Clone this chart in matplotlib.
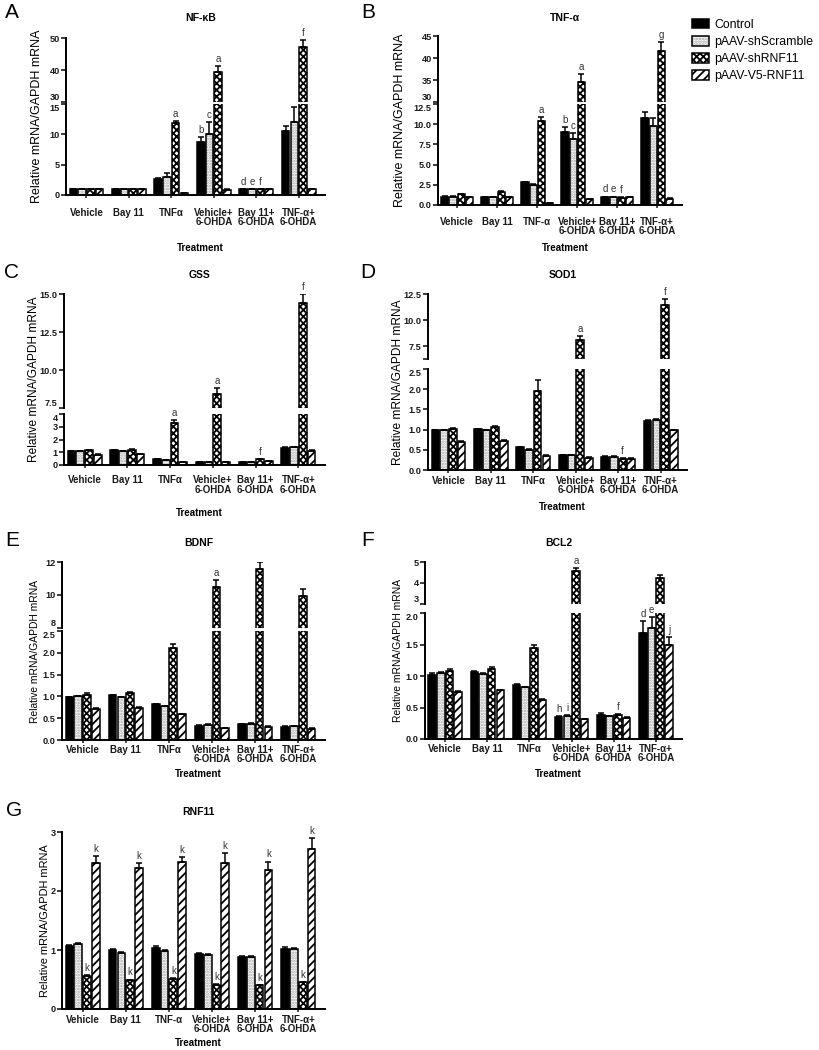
import numpy as np
import matplotlib
matplotlib.use("Agg")
import matplotlib.pyplot as plt
from matplotlib.patches import Patch

plt.rcParams['font.family'] = ['Liberation Sans', 'DejaVu Sans']
plt.rcParams['hatch.linewidth'] = 1.3

W, H = 820, 1050

series = ["Control", "pAAV-shScramble", "pAAV-shRNF11", "pAAV-V5-RNF11"]
groups_alpha = ["Vehicle", "Bay 11", "TNFα", "Vehicle+\n6-OHDA", "Bay 11+\n6-OHDA", "TNF-α+\n6-OHDA"]
groups_dash = ["Vehicle", "Bay 11", "TNF-α", "Vehicle+\n6-OHDA", "Bay 11+\n6-OHDA", "TNF-α+\n6-OHDA"]

# rows: Control, shScramble, shRNF11, V5-RNF11 ; cols: treatment groups
nfkb_mean = [[1.0, 1.0, 2.7, 8.7, 1.0, 10.5],
             [1.0, 1.0, 3.0, 10.1, 1.0, 12.1],
             [1.0, 1.0, 11.8, 39.3, 1.0, 47.2],
             [1.0, 1.0, 0.3, 0.9, 1.0, 1.0]]
nfkb_err = [[0.05, 0.05, 0.15, 0.9, 0.05, 0.9],
            [0.05, 0.05, 0.6, 2.0, 0.05, 2.4],
            [0.05, 0.05, 0.45, 1.8, 0.05, 2.2],
            [0.05, 0.05, 0.05, 0.05, 0.05, 0.05]]
nfkb_letters = [(2, 2, 'a'), (3, 0, 'b'), (3, 1, 'c'), (3, 2, 'a'),
                (4, 0, 'd'), (4, 1, 'e'), (4, 2, 'f'), (5, 2, 'f')]

tnf_mean = [[1.05, 1.0, 2.8, 9.0, 1.0, 10.8],
            [1.05, 0.95, 2.5, 8.2, 1.0, 9.8],
            [1.3, 1.6, 10.4, 34.6, 0.9, 41.5],
            [1.0, 1.0, 0.2, 0.7, 1.0, 0.8]]
tnf_err = [[0.05, 0.05, 0.1, 0.6, 0.05, 0.7],
           [0.05, 0.05, 0.1, 0.7, 0.05, 1.0],
           [0.1, 0.15, 0.5, 1.8, 0.05, 2.2],
           [0.05, 0.05, 0.03, 0.05, 0.05, 0.05]]
tnf_letters = [(2, 2, 'a'), (3, 0, 'b'), (3, 1, 'c'), (3, 2, 'a'),
               (4, 0, 'd'), (4, 1, 'e'), (4, 2, 'f'), (5, 2, 'g')]

gss_mean = [[1.1, 1.15, 0.45, 0.25, 0.25, 1.35],
            [1.1, 1.1, 0.4, 0.25, 0.25, 1.4],
            [1.15, 1.2, 3.3, 8.4, 0.45, 14.4],
            [0.8, 0.85, 0.25, 0.2, 0.3, 1.1]]
gss_err = [[0.03, 0.03, 0.03, 0.02, 0.02, 0.04],
           [0.03, 0.03, 0.03, 0.02, 0.02, 0.04],
           [0.05, 0.05, 0.2, 0.4, 0.05, 0.6],
           [0.03, 0.03, 0.02, 0.02, 0.02, 0.05]]
gss_letters = [(2, 2, 'a'), (3, 2, 'a'), (4, 2, 'f'), (5, 2, 'f')]

sod1_mean = [[0.98, 1.01, 0.56, 0.36, 0.32, 1.21],
             [0.99, 0.98, 0.50, 0.36, 0.32, 1.24],
             [1.02, 1.06, 1.95, 8.1, 0.27, 11.4],
             [0.70, 0.73, 0.35, 0.30, 0.28, 0.99]]
sod1_err = [[0.01, 0.01, 0.02, 0.02, 0.02, 0.02],
            [0.01, 0.01, 0.02, 0.02, 0.02, 0.02],
            [0.03, 0.03, 0.27, 0.4, 0.03, 0.6],
            [0.01, 0.01, 0.02, 0.01, 0.01, 0.01]]
sod1_letters = [(3, 2, 'a'), (4, 2, 'f'), (5, 2, 'f')]

bdnf_mean = [[0.98, 1.03, 0.82, 0.33, 0.36, 0.30],
             [1.00, 0.98, 0.78, 0.34, 0.37, 0.32],
             [1.04, 1.07, 2.12, 10.5, 11.55, 9.95],
             [0.72, 0.74, 0.59, 0.27, 0.30, 0.26]]
bdnf_err = [[0.01, 0.01, 0.01, 0.02, 0.01, 0.01],
            [0.01, 0.01, 0.01, 0.02, 0.01, 0.01],
            [0.03, 0.03, 0.08, 0.4, 0.45, 0.4],
            [0.01, 0.01, 0.01, 0.01, 0.01, 0.01]]
bdnf_letters = [(3, 2, 'a')]

bcl2_mean = [[1.02, 1.07, 0.86, 0.35, 0.38, 1.69],
             [1.04, 1.03, 0.82, 0.36, 0.36, 1.76],
             [1.08, 1.11, 1.45, 4.55, 0.38, 4.25],
             [0.75, 0.77, 0.62, 0.31, 0.34, 1.49]]
bcl2_err = [[0.02, 0.01, 0.01, 0.02, 0.04, 0.18],
            [0.02, 0.01, 0.01, 0.02, 0.01, 0.18],
            [0.03, 0.04, 0.04, 0.15, 0.02, 0.12],
            [0.01, 0.01, 0.01, 0.01, 0.01, 0.13]]
bcl2_letters = [(3, 0, 'h'), (3, 1, 'i'), (3, 2, 'a'), (4, 2, 'f'),
                (5, 0, 'd'), (5, 1, 'e'), (5, 3, 'j')]

rnf11_mean = [[1.07, 1.00, 1.04, 0.93, 0.88, 1.02],
              [1.10, 0.95, 0.99, 0.92, 0.88, 1.01],
              [0.56, 0.49, 0.51, 0.41, 0.40, 0.45],
              [2.48, 2.39, 2.49, 2.47, 2.35, 2.72]]
rnf11_err = [[0.02, 0.02, 0.03, 0.02, 0.02, 0.03],
             [0.02, 0.01, 0.01, 0.02, 0.01, 0.02],
             [0.02, 0.01, 0.01, 0.01, 0.01, 0.01],
             [0.12, 0.08, 0.08, 0.17, 0.15, 0.18]]
rnf11_letters = [(0, 2, 'k'), (1, 2, 'k'), (2, 2, 'k'), (3, 2, 'k'), (4, 2, 'k'), (5, 2, 'k'),
                 (0, 3, 'k'), (1, 3, 'k'), (2, 3, 'k'), (3, 3, 'k'), (4, 3, 'k'), (5, 3, 'k')]

BW = 0.18
STEP = 0.205
LW = 1.1

fig = plt.figure(figsize=(W / 100, H / 100), dpi=100)


def draw_bars(ax, means, errs):
    x = np.arange(len(means[0]))
    for i in range(4):
        xi = x + (i - 1.5) * STEP
        m = np.array(means[i])
        e = np.array(errs[i])
        if i == 0:
            ax.bar(xi, m, BW, color='black', edgecolor='black', linewidth=LW, zorder=2)
        elif i == 1:
            ax.bar(xi, m, BW, color='white', edgecolor='#a8a8a8', hatch='......', linewidth=0, zorder=2)
            ax.bar(xi, m, BW, fill=False, edgecolor='black', linewidth=LW, zorder=2)
        elif i == 2:
            ax.bar(xi, m, BW, color='white', edgecolor='black', hatch='xxxxx', linewidth=LW, zorder=2)
        else:
            ax.bar(xi, m, BW, color='white', edgecolor='black', hatch='////', linewidth=LW, zorder=2)
        ax.errorbar(xi, m, yerr=[np.zeros_like(e), e], fmt='none', ecolor='black',
                    elinewidth=1.1, capsize=2.2, capthick=1.1, zorder=3)


def panel(letter, title, groups, means, errs, letters, x0, x1, segs,
          letter_xy, title_y, treat_y, ylabel_x, ylabel_fs, xpad):
    axes = []
    n = len(segs)
    for k, (ytop, ybot, lo, hi, ticks, fmt) in enumerate(segs):
        ax = fig.add_axes([x0 / W, 1 - ybot / H, (x1 - x0) / W, (ybot - ytop) / H])
        draw_bars(ax, means, errs)
        ax.set_xlim(-0.48, 5.62)
        ax.set_ylim(lo, hi)
        ax.set_yticks(ticks)
        labs = ax.set_yticklabels([fmt.format(t) for t in ticks], fontweight='bold')
        if n > 1:
            if k < n - 1 and abs(ticks[0] - lo) < 1e-9:
                labs[0].set_verticalalignment('bottom')
            if k > 0 and abs(ticks[-1] - hi) < 1e-9:
                labs[-1].set_verticalalignment('top')
        ax.set_yticks([lo, hi], minor=True)
        for s in ['top', 'right']:
            ax.spines[s].set_visible(False)
        ax.spines['left'].set_linewidth(1.4)
        ax.spines['bottom'].set_linewidth(1.4)
        ax.tick_params(axis='y', which='both', length=3.5, width=1.2, labelsize=6.6, pad=1, colors='#1a1a1a')
        if k < n - 1:
            ax.spines['bottom'].set_visible(False)
            ax.set_xticks([])
        else:
            ax.set_xticks(np.arange(len(groups)))
            ax.set_xticklabels(groups, fontweight='bold', linespacing=0.9)
            ax.tick_params(axis='x', length=2.5, width=1.1, labelsize=7, pad=xpad, colors='#1a1a1a')
        axes.append(ax)
    # significance letters
    for (g, s, l) in letters:
        y = means[s][g] + errs[s][g]
        target = axes[-1]
        for k, seg in enumerate(segs):
            if seg[2] <= y <= seg[3] + 1e-9:
                target = axes[k]
        target.annotate(l, (g + (s - 1.5) * STEP, y), xytext=(0, 1.5), textcoords='offset points',
                        ha='center', va='bottom', fontsize=7, color='#333333')
    cx = (x0 + x1) / 2
    fig.text(letter_xy[0] / W, 1 - letter_xy[1] / H, letter, fontsize=15, ha='center', va='center')
    fig.text((cx + 5) / W, 1 - title_y / H, title, fontsize=7.5, fontweight='bold', ha='center', va='center')
    fig.text((cx + 5) / W, 1 - treat_y / H, "Treatment", fontsize=7, fontweight='bold', ha='center', va='center')
    ymid = (segs[0][0] + segs[-1][1]) / 2
    fig.text(ylabel_x / W, 1 - ymid / H, "Relative mRNA/GAPDH mRNA", rotation=90,
             fontsize=ylabel_fs, ha='center', va='center')


panel("A", "NF-κB", groups_alpha, nfkb_mean, nfkb_err, nfkb_letters, 66, 325,
      [(38, 102, 30, 50, [30, 40, 50], "{:.0f}"),
       (104, 195, 0, 15, [0, 5, 10, 15], "{:.0f}")],
      (12, 13), 18, 248, 37, 9.0, 7.0)

panel("B", "TNF-α", groups_dash, tnf_mean, tnf_err, tnf_letters, 438, 682,
      [(36, 102, 30, 45, [30, 35, 40, 45], "{:.0f}"),
       (104, 205, 0, 12.5, [0, 2.5, 5, 7.5, 10, 12.5], "{:.1f}")],
      (368, 13), 18, 248, 400, 9.0, 6.0)

panel("C", "GSS", groups_alpha, gss_mean, gss_err, gss_letters, 64, 325,
      [(294, 408, 7.5, 15, [7.5, 10, 12.5, 15], "{:.1f}"),
       (414, 465, 0, 4, [0, 1, 2, 3, 4], "{:.0f}")],
      (12, 273), 275, 513, 34, 8.6, 5.0)

panel("D", "SOD1", groups_alpha, sod1_mean, sod1_err, sod1_letters, 428, 687,
      [(294, 359, 6.25, 12.5, [7.5, 10, 12.5], "{:.1f}"),
       (369, 470, 0, 2.5, [0, 0.5, 1.0, 1.5, 2.0, 2.5], "{:.1f}")],
      (368, 273), 275, 507, 398, 8.6, 2.0)

panel("E", "BDNF", groups_alpha, bdnf_mean, bdnf_err, bdnf_letters, 62, 325,
      [(562, 628, 8, 12, [8, 10, 12], "{:.0f}"),
       (631, 740, 0, 2.5, [0, 0.5, 1.0, 1.5, 2.0, 2.5], "{:.1f}")],
      (12, 540), 543, 774, 35, 7.4, 1.0)

panel("F", "BCL2", groups_alpha, bcl2_mean, bcl2_err, bcl2_letters, 425, 682,
      [(562, 604, 3, 5, [3, 4, 5], "{:.0f}"),
       (613, 739, 0, 2.0, [0, 0.5, 1.0, 1.5, 2.0], "{:.1f}")],
      (368, 540), 543, 774, 398, 7.4, 1.0)

panel("G", "RNF11", groups_dash, rnf11_mean, rnf11_err, rnf11_letters, 62, 325,
      [(832, 1009, 0, 3, [0, 1, 2, 3], "{:.0f}")],
      (14, 811), 812, 1043, 45, 7.9, 1.5)

handles = [Patch(facecolor='black', edgecolor='black', linewidth=LW),
           (Patch(facecolor='white', edgecolor='#a8a8a8', hatch='......', linewidth=0),
            Patch(facecolor='none', edgecolor='black', linewidth=LW)),
           Patch(facecolor='white', edgecolor='black', hatch='xxxxx', linewidth=LW),
           Patch(facecolor='white', edgecolor='black', hatch='////', linewidth=LW)]
fig.legend(handles, series, loc='upper left', bbox_to_anchor=(692 / W, 1 - 19 / H),
           frameon=False, fontsize=8.8, handlelength=1.4, handleheight=0.8,
           labelspacing=0.42, handletextpad=0.4, borderaxespad=0, borderpad=0)

fig.savefig("out.png", dpi=100)
